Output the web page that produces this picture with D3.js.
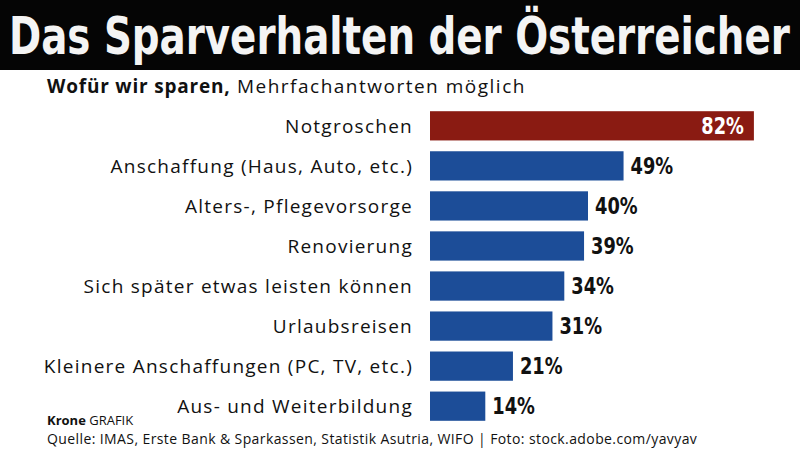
<!DOCTYPE html>
<html>
<head>
<meta charset="utf-8">
<script src="https://cdn.jsdelivr.net/npm/d3@7"></script>
<style>
  body { margin: 0; background: #fff; }
</style>
</head>
<body>
<div id="chart"></div>
<script>
// Data
var categories = ["Notgroschen", "Anschaffung (Haus, Auto, etc.)", "Alters-, Pflegevorsorge", "Renovierung",
    "Sich später etwas leisten können", "Urlaubsreisen", "Kleinere Anschaffungen (PC, TV, etc.)", "Aus- und Weiterbildung"]
var values = [82, 49, 40, 39, 34, 31, 21, 14]
var valueLabels = ["82%", "49%", "40%", "39%", "34%", "31%", "21%", "14%"]

var width = 800, height = 452

var svg = d3.select("#chart")
    .append("svg")
    .attr("width", width)
    .attr("height", height)

// Title band
svg.append("rect")
    .attr("x", 0).attr("y", 0)
    .attr("width", width).attr("height", 70)
    .attr("fill", "#050505")

// Title: drawn at a smaller size, then stretched to fill the band
var title = svg.append("text")
    .attr("x", 0)
    .attr("y", 0)
    .attr("font-family", "'Liberation Sans Narrow', 'DejaVu Sans Condensed', sans-serif")
    .attr("font-weight", "bold")
    .attr("font-size", "40px")
    .attr("fill", "#f4f4f4")
    .text("Das Sparverhalten der Österreicher")
var titleLen = title.node().getComputedTextLength()
title.attr("transform", "translate(9,54) scale(" + (781 / titleLen) + "," + (51 / 40) + ")")

// Subtitle
var sub = svg.append("text")
    .attr("x", 47)
    .attr("y", 93)
    .attr("font-family", "'Open Sans', sans-serif")
    .attr("font-size", "19px")
    .attr("letter-spacing", "1.5px")
    .attr("fill", "#111")
sub.append("tspan").attr("font-weight", "bold").attr("letter-spacing", "0.8px").text("Wofür wir sparen,")
sub.append("tspan").text(" Mehrfachantworten möglich")

// Scales
var x = d3.scaleLinear()
    .domain([0, 100])
    .range([430, 430 + 395])

var y = d3.scaleBand()
    .domain(categories)
    .range([106, 426])
    .paddingInner(0.27)
    .paddingOuter(0.13)

var g = svg.append("g")

// Bars
g.selectAll("rect.bar")
    .data(categories)
    .enter()
    .append("rect")
    .attr("class", "bar")
    .attr("x", x(0))
    .attr("y", function(d) { return y(d) })
    .attr("width", function(d, i) { return x(values[i]) - x(0) })
    .attr("height", y.bandwidth())
    .attr("fill", function(d, i) { return i === 0 ? "#8a1b12" : "#1c4d98" })

// Category labels
g.selectAll("text.cat")
    .data(categories)
    .enter()
    .append("text")
    .attr("class", "cat")
    .attr("x", 413)
    .attr("y", function(d) { return y(d) + y.bandwidth() / 2 })
    .attr("dy", "0.36em")
    .attr("text-anchor", "end")
    .attr("font-family", "'Open Sans', sans-serif")
    .attr("font-size", "19px")
    .attr("letter-spacing", "1.25px")
    .attr("fill", "#111")
    .text(function(d) { return d })

// Value labels (narrowed to look condensed)
g.selectAll("text.val")
    .data(categories)
    .enter()
    .append("text")
    .attr("class", "val")
    .attr("x", function(d, i) { return i === 0 ? x(values[i]) - 10 : x(values[i]) + 7 })
    .attr("y", function(d) { return y(d) + y.bandwidth() / 2 })
    .attr("dy", "0.36em")
    .attr("text-anchor", function(d, i) { return i === 0 ? "end" : "start" })
    .attr("font-family", "'Liberation Sans Narrow', 'DejaVu Sans Condensed', sans-serif")
    .attr("font-weight", "bold")
    .attr("font-size", "23px")
    .attr("fill", function(d, i) { return i === 0 ? "#fff" : "#111" })
    .text(function(d, i) { return valueLabels[i] })
    .each(function() {
        var len = this.getComputedTextLength()
        d3.select(this)
            .attr("textLength", len * 0.86)
            .attr("lengthAdjust", "spacingAndGlyphs")
    })

// Footer
var foot1 = svg.append("text")
    .attr("x", 47)
    .attr("y", 425)
    .attr("font-family", "'Open Sans', sans-serif")
    .attr("font-size", "13px")
    .attr("fill", "#111")
foot1.append("tspan").attr("font-weight", "bold").text("Krone")
foot1.append("tspan").text(" GRAFIK")

svg.append("text")
    .attr("x", 47)
    .attr("y", 444)
    .attr("font-family", "'Open Sans', sans-serif")
    .attr("font-size", "14px")
    .attr("letter-spacing", "0.4px")
    .attr("fill", "#111")
    .text("Quelle: IMAS, Erste Bank & Sparkassen, Statistik Asutria, WIFO | Foto: stock.adobe.com/yavyav")
</script>
</body>
</html>
